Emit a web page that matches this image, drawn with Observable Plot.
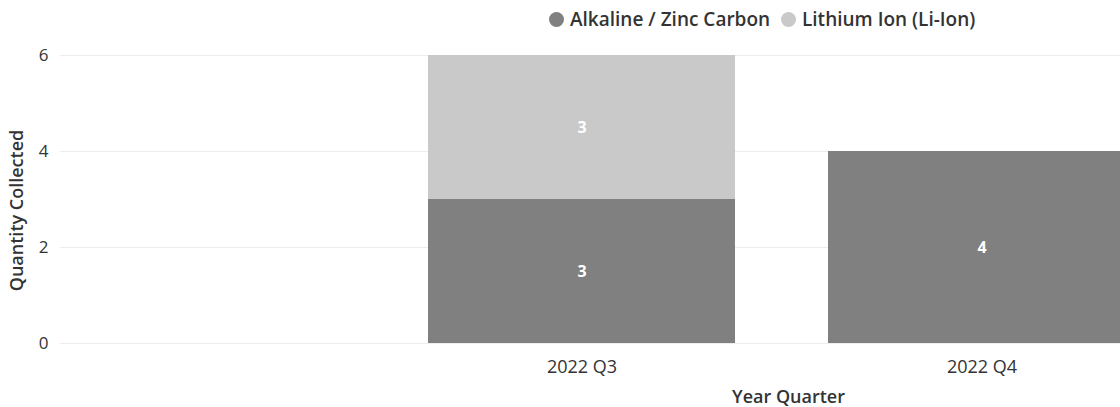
<!DOCTYPE html>
<html>
<head>
<meta charset="utf-8">
<script src="https://cdn.jsdelivr.net/npm/d3@7"></script>
<script src="https://cdn.jsdelivr.net/npm/@observablehq/plot@0.6"></script>
<style>
  html, body { margin: 0; padding: 0; background: #fff; overflow: hidden; }
  body { width: 1120px; height: 407px; font-family: "Open Sans", sans-serif; }
  #legend { height: 38px; position: relative; }
  .item { position: absolute; top: 6px; display: flex; align-items: center; font-size: 19px; font-weight: 600; color: #333; white-space: nowrap; }
  .sw { width: 15px; height: 15px; border-radius: 50%; margin-right: 6px; }
</style>
</head>
<body>
<div id="legend"></div>
<div id="chart"></div>
<script>
const quarters = ["2022 Q3", "2022 Q4"];
const seriesNames = ["Alkaline / Zinc Carbon", "Lithium Ion (Li-Ion)"];
const alkaline = [3, 4];
const lithium = [3, 0];
const yTicks = [0, 2, 4, 6];
const colors = ["#808080", "#c9c9c9"];

const data = [];
quarters.forEach((q, i) => {
  data.push({quarter: q, type: seriesNames[0], value: alkaline[i]});
  data.push({quarter: q, type: seriesNames[1], value: lithium[i]});
});

// legend
const legend = document.getElementById("legend");
const legendX = [549, 781];
seriesNames.forEach((s, i) => {
  const d = document.createElement("div");
  d.className = "item";
  d.style.left = legendX[i] + "px";
  d.innerHTML = `<span class="sw" style="background:${colors[i]}"></span><span>${s}</span>`;
  legend.appendChild(d);
});

const chart = Plot.plot({
  width: 1120,
  height: 369,
  marginTop: 17,
  marginBottom: 64,
  marginLeft: 60,
  marginRight: 0,
  style: {fontFamily: "Open Sans, sans-serif", fontSize: "18px", color: "#333", background: "#fff"},
  x: {
    domain: quarters,
    range: [428, 1135],
    paddingInner: 0.2325,
    paddingOuter: 0
  },
  y: {
    domain: [0, 6]
  },
  color: {domain: seriesNames, range: colors},
  marks: [
    Plot.ruleY(yTicks, {stroke: "#ededed", strokeWidth: 1}),
    Plot.barY(data, Plot.stackY({x: "quarter", y: "value", fill: "type", order: seriesNames, clip: "frame"})),
    Plot.text(data, Plot.stackY({x: "quarter", y: "value", z: "type", order: seriesNames, text: d => d.value > 0 ? String(d.value) : null, fill: "white", fontSize: 16, fontWeight: 700, clip: "frame"})),
    Plot.axisY({ticks: yTicks, tickFormat: "d", tickSize: 0, tickPadding: 12, fontSize: 17, label: null}),
    Plot.text(["Quantity Collected"], {frameAnchor: "left", textAnchor: "middle", dx: -43, dy: 11, rotate: -90, fontSize: 18, fontWeight: 600, fill: "#333"}),
    Plot.axisX({tickSize: 0, tickPadding: 17, fontSize: 18, label: null}),
    Plot.text(["Year Quarter"], {frameAnchor: "bottom", dx: 198, dy: 59, fontSize: 18, fontWeight: 600, fill: "#333"})
  ]
});
document.getElementById("chart").appendChild(chart);
</script>
</body>
</html>
